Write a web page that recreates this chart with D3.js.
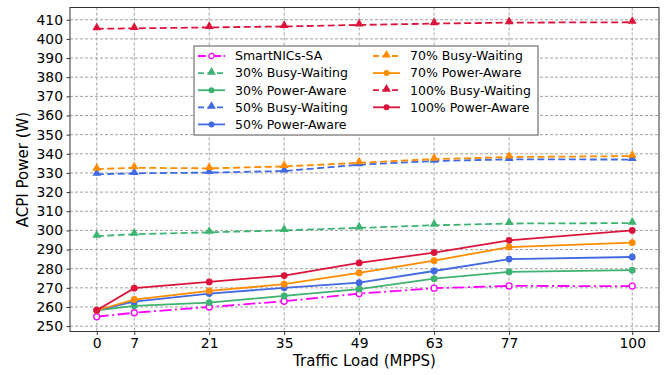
<!DOCTYPE html>
<html>
<head>
<meta charset="utf-8">
<script src="https://cdn.jsdelivr.net/npm/d3@7"></script>
<style>
  body { margin: 0; background: #fff; }
  text { font-family: "DejaVu Sans", sans-serif; fill: #000; }
</style>
</head>
<body>
<div class="container"></div>
<script>
// traffic load (MPPS) on x, ACPI power (W) on y
var loads = [0, 7, 21, 35, 49, 63, 77, 100];
var yTicks = [250, 260, 270, 280, 290, 300, 310, 320, 330, 340, 350, 360, 370, 380, 390, 400, 410];

var smartnicsSA = [254.9, 257.0, 260.0, 263.0, 267.0, 269.8, 271.0, 270.9];
var busy30 = [297.0, 298.0, 299.0, 300.0, 301.3, 302.7, 303.6, 303.8];
var power30 = [258.3, 260.6, 262.3, 265.8, 269.3, 274.8, 278.3, 279.2];
var busy50 = [329.3, 329.8, 330.2, 331.0, 334.3, 336.2, 337.1, 337.0];
var power50 = [258.3, 262.8, 267.0, 270.0, 272.7, 278.8, 285.0, 286.1];
var busy70 = [332.0, 332.7, 332.4, 333.4, 335.3, 337.2, 338.3, 338.8];
var power70 = [258.3, 263.9, 268.4, 271.9, 277.8, 284.2, 291.3, 293.6];
var busy100 = [405.3, 405.5, 406.0, 406.5, 407.3, 408.0, 408.5, 408.7];
var power100 = [258.3, 269.8, 273.1, 276.4, 283.0, 288.4, 294.8, 300.0];

var seriesNames = ['SmartNICs-SA', '30% Busy-Waiting', '30% Power-Aware', '50% Busy-Waiting', '50% Power-Aware',
  '70% Busy-Waiting', '70% Power-Aware', '100% Busy-Waiting', '100% Power-Aware'];

var series = [
  { name: seriesNames[0], values: smartnicsSA, color: '#ff00ff', kind: 'sa' },
  { name: seriesNames[1], values: busy30, color: '#3cb371', kind: 'busy' },
  { name: seriesNames[2], values: power30, color: '#3cb371', kind: 'power' },
  { name: seriesNames[3], values: busy50, color: '#4169e1', kind: 'busy' },
  { name: seriesNames[4], values: power50, color: '#4169e1', kind: 'power' },
  { name: seriesNames[5], values: busy70, color: '#ff8c00', kind: 'busy' },
  { name: seriesNames[6], values: power70, color: '#ff8c00', kind: 'power' },
  { name: seriesNames[7], values: busy100, color: '#dc143c', kind: 'busy' },
  { name: seriesNames[8], values: power100, color: '#dc143c', kind: 'power' }
];

var width = 667, height = 375;
var margin = { left: 70, right: 8, top: 7.5, bottom: 43.5 };
var plotW = width - margin.left - margin.right;
var plotH = height - margin.top - margin.bottom;

var dashFor = { sa: '12,3.5,2,3.5', busy: '7,3.5', power: null };

var svg = d3.select('.container')
  .append('svg')
    .attr('width', width)
    .attr('height', height);

var g = svg.append('g')
    .attr('transform', 'translate(' + margin.left + ',' + margin.top + ')');

var x = d3.scaleLinear().domain([-5, 105]).range([0, plotW]);
var y = d3.scaleLinear().domain([247.2, 416.4]).range([plotH, 0]);

// ----------
// grid

g.append('g')
    .attr('stroke', '#a0a0a0')
    .attr('stroke-width', 1)
    .attr('stroke-dasharray', '3,2')
  .selectAll('line.h')
  .data(yTicks)
  .enter().append('line')
    .attr('x1', 0).attr('x2', plotW)
    .attr('y1', function(d) { return y(d); })
    .attr('y2', function(d) { return y(d); });

g.append('g')
    .attr('stroke', '#a0a0a0')
    .attr('stroke-width', 1)
    .attr('stroke-dasharray', '3,2')
  .selectAll('line.v')
  .data(loads)
  .enter().append('line')
    .attr('y1', 0).attr('y2', plotH)
    .attr('x1', function(d) { return x(d); })
    .attr('x2', function(d) { return x(d); });

// ----------
// lines and markers

var line = d3.line()
  .x(function(d, i) { return x(loads[i]); })
  .y(function(d) { return y(d); });

var tri = d3.symbol().type(d3.symbolTriangle).size(34);

series.forEach(function(s) {
  g.append('path')
      .datum(s.values)
      .attr('fill', 'none')
      .attr('stroke', s.color)
      .attr('stroke-width', 1.8)
      .attr('stroke-dasharray', dashFor[s.kind])
      .attr('d', line);

  var pts = g.append('g').selectAll('.pt')
    .data(s.values)
    .enter();

  if (s.kind == 'busy') {
    pts.append('path')
        .attr('d', tri)
        .attr('fill', s.color)
        .attr('transform', function(d, i) { return 'translate(' + x(loads[i]) + ',' + (y(d) - 1) + ')'; });
  } else {
    pts.append('circle')
        .attr('cx', function(d, i) { return x(loads[i]); })
        .attr('cy', function(d) { return y(d); })
        .attr('r', s.kind == 'sa' ? 3 : 3.4)
        .attr('fill', s.kind == 'sa' ? '#fff' : s.color)
        .attr('stroke', s.color)
        .attr('stroke-width', s.kind == 'sa' ? 1.3 : 0);
  }
});

// ----------
// axes

var xAxis = g.append('g')
    .attr('transform', 'translate(0,' + plotH + ')')
    .call(d3.axisBottom(x).tickValues(loads).tickSize(3.5).tickPadding(3.5));
var yAxis = g.append('g')
    .call(d3.axisLeft(y).tickValues(yTicks).tickSize(3.5).tickPadding(3.5));

[xAxis, yAxis].forEach(function(a) {
  a.select('.domain').remove();
  a.selectAll('line').attr('stroke', '#000').attr('stroke-width', 0.8);
  a.selectAll('text').attr('font-size', 13.9).attr('font-family', 'DejaVu Sans, sans-serif').attr('fill', '#000');
});

g.append('rect')
    .attr('width', plotW)
    .attr('height', plotH)
    .attr('fill', 'none')
    .attr('stroke', '#333')
    .attr('stroke-width', 1);

svg.append('text')
    .attr('x', margin.left + plotW / 2)
    .attr('y', 366)
    .attr('text-anchor', 'middle')
    .attr('font-size', 15)
    .text('Traffic Load (MPPS)');

svg.append('text')
    .attr('transform', 'translate(28,' + (margin.top + plotH / 2) + ') rotate(-90)')
    .attr('text-anchor', 'middle')
    .attr('font-size', 15)
    .text('ACPI Power (W)');

// ----------
// legend

var legend = svg.append('g').attr('transform', 'translate(194,46)');
legend.append('rect')
    .attr('width', 344)
    .attr('height', 89)
    .attr('fill', '#fff')
    .attr('stroke', '#555')
    .attr('stroke-width', 1);

series.forEach(function(s, i) {
  var col = i < 5 ? 0 : 1;
  var row = i < 5 ? i : i - 5;
  var item = legend.append('g')
      .attr('transform', 'translate(' + (4 + col * 175) + ',' + (10 + row * 17.1) + ')');
  item.append('line')
      .attr('x1', 0).attr('x2', 27)
      .attr('stroke', s.color)
      .attr('stroke-width', 1.8)
      .attr('stroke-dasharray', s.kind == 'sa' ? '8,2.5,2,2.5' : (s.kind == 'busy' ? '6,3.5' : null));
  if (s.kind == 'busy') {
    item.append('path').attr('d', tri).attr('fill', s.color).attr('transform', 'translate(13.5,-1)');
  } else {
    item.append('circle')
        .attr('cx', 13.5).attr('r', s.kind == 'sa' ? 2.6 : 3)
        .attr('fill', s.kind == 'sa' ? '#fff' : s.color)
        .attr('stroke', s.color)
        .attr('stroke-width', s.kind == 'sa' ? 1.2 : 0);
  }
  item.append('text')
      .attr('x', 37)
      .attr('dy', '0.35em')
      .attr('font-size', 12.5)
      .text(s.name);
});
</script>
</body>
</html>
